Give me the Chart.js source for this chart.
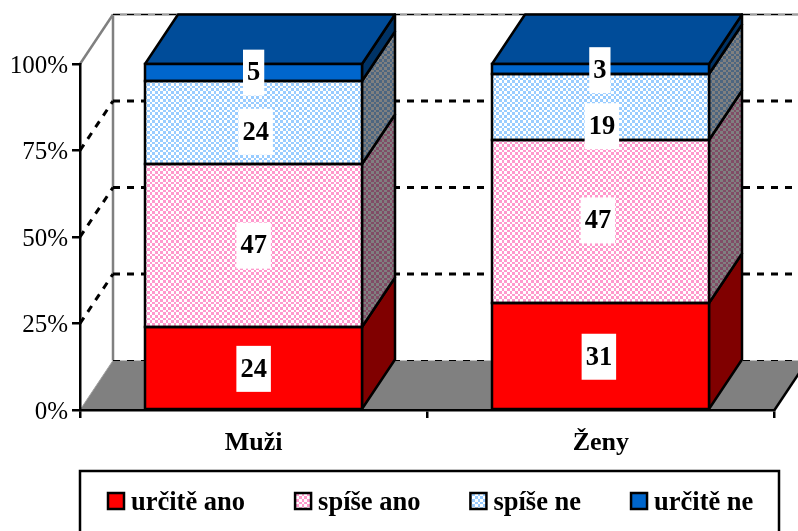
<!DOCTYPE html>
<html>
<head>
<meta charset="utf-8">
<style>
  html, body { margin: 0; padding: 0; background: #fff; overflow: hidden; }
  canvas { display: block; }
</style>
<script src="https://cdn.jsdelivr.net/npm/chart.js@4"></script>
</head>
<body>
<canvas id="graf" width="798" height="531"></canvas>
<script>
const categories = ['Muži', 'Ženy'];
const seriesLabels = ['určitě ano', 'spíše ano', 'spíše ne', 'určitě ne'];
const urciteAno = [24, 31];
const spiseAno = [47, 47];
const spiseNe = [24, 19];
const urciteNe = [5, 3];
const tickValues = [0, 25, 50, 75, 100];

const FONT = '"Liberation Serif", "Times New Roman", serif';
const DEPTH_X = 33;
const DEPTH_Y = 49.5;
const LINE = 2.5;

// The original labels were dragged by hand: [dx, dy] per series, per category
const labelNudge = [
    [[0, 1], [-2, 1]],
    [[0, 0], [-3, -1]],
    [[2, 9], [1, 19]],
    [[0, 0], [-1, 1]]
];

// Dither like the old Excel fills: checks of about 2.67px, so cells of 3, 3, 2
function checker(fg, bg) {
    const cells = [3, 3, 2, 3, 3, 2];
    const c = document.createElement('canvas');
    c.width = 16;
    c.height = 16;
    const g = c.getContext('2d');
    g.fillStyle = bg;
    g.fillRect(0, 0, 16, 16);
    g.fillStyle = fg;
    let py = 0;
    cells.forEach((h, row) => {
        let px = 0;
        cells.forEach((w, col) => {
            if ((row + col) % 2 === 0) g.fillRect(px, py, w, h);
            px += w;
        });
        py += h;
    });
    return g.createPattern(c, 'repeat');
}

const front = [
    '#FF0000',
    checker('#FF99CC', '#FFFFFF'),
    checker('#99CCFF', '#FFFFFF'),
    '#0066CC'
];
const side = [
    '#800000',
    checker('#804D66', '#808080'),
    checker('#4D6680', '#808080'),
    '#003366'
];
const topColor = '#004C99';

function poly(ctx, pts, fill) {
    ctx.beginPath();
    pts.forEach((p, i) => i ? ctx.lineTo(p[0], p[1]) : ctx.moveTo(p[0], p[1]));
    ctx.closePath();
    if (fill) {
        ctx.fillStyle = fill;
        ctx.fill();
    }
}

function line(ctx, x1, y1, x2, y2, color, width, dash) {
    ctx.save();
    ctx.strokeStyle = color;
    ctx.lineWidth = width;
    ctx.setLineDash(dash || []);
    ctx.beginPath();
    ctx.moveTo(x1, y1);
    ctx.lineTo(x2, y2);
    ctx.stroke();
    ctx.restore();
}

// Back wall, side wall and floor
const walls = {
    id: 'walls',
    beforeDraw(chart) {
        const { ctx, chartArea: a, scales: { y } } = chart;
        const bx = a.left + DEPTH_X;
        const fy = a.bottom - DEPTH_Y;
        const ty = a.top - DEPTH_Y;
        ctx.save();
        poly(ctx, [[a.left, a.bottom], [bx, fy], [a.right + DEPTH_X, fy], [a.right, a.bottom]], '#808080');
        line(ctx, a.left, a.top, bx, ty, '#808080', LINE);
        line(ctx, bx, ty, bx, fy, '#808080', LINE);
        line(ctx, bx, ty, chart.width, ty, '#A0A0A0', LINE);
        line(ctx, a.left, a.bottom, bx, fy, '#A0A0A0', 1);
        line(ctx, a.right, a.bottom, a.right + DEPTH_X, fy, '#000', LINE);
        tickValues.forEach(v => {
            const py = y.getPixelForValue(v);
            if (v === 0 || v === 100) {
                line(ctx, bx, py - DEPTH_Y, chart.width, py - DEPTH_Y, '#000', 1, [7, 7]);
                return;
            }
            line(ctx, a.left, py, bx, py - DEPTH_Y, '#000', 3, [7, 7]);
            line(ctx, bx, py - DEPTH_Y, chart.width, py - DEPTH_Y, '#000', 3, [7, 7]);
        });
        ctx.restore();
    }
};

// Right side and top of each column
const faces = {
    id: 'faces',
    beforeDatasetsDraw(chart) {
        const { ctx } = chart;
        ctx.save();
        ctx.strokeStyle = '#000';
        ctx.lineWidth = LINE;
        ctx.lineJoin = 'round';
        chart.data.datasets.forEach((ds, d) => {
            chart.getDatasetMeta(d).data.forEach(el => {
                const r = Math.round(el.x + el.width / 2);
                const l = Math.round(el.x - el.width / 2);
                const t = Math.round(el.y);
                const b = Math.round(el.base);
                poly(ctx, [[r, b], [r + DEPTH_X, b - DEPTH_Y], [r + DEPTH_X, t - DEPTH_Y], [r, t]], side[d]);
                ctx.stroke();
                if (d === chart.data.datasets.length - 1) {
                    poly(ctx, [[l, t], [l + DEPTH_X, t - DEPTH_Y], [r + DEPTH_X, t - DEPTH_Y], [r, t]], topColor);
                    ctx.stroke();
                }
            });
        });
        ctx.restore();
    },
    afterDatasetsDraw(chart) {
        const { ctx } = chart;
        ctx.save();
        ctx.strokeStyle = '#000';
        ctx.lineWidth = LINE;
        chart.data.datasets.forEach((ds, d) => {
            chart.getDatasetMeta(d).data.forEach(el => {
                const l = Math.round(el.x - el.width / 2);
                const t = Math.round(el.y);
                ctx.strokeRect(l, t, Math.round(el.width), Math.round(el.base) - t);
            });
        });
        // Value labels on white boxes
        ctx.font = 'bold 26.5px ' + FONT;
        ctx.textAlign = 'center';
        ctx.textBaseline = 'middle';
        chart.data.datasets.forEach((ds, d) => {
            chart.getDatasetMeta(d).data.forEach((el, i) => {
                const [dx, dy] = labelNudge[d][i];
                const cx = el.x + dx;
                const cy = (el.y + el.base) / 2 + dy;
                const txt = String(ds.data[i]);
                const w = ctx.measureText(txt).width + 8;
                ctx.fillStyle = '#fff';
                ctx.fillRect(cx - w / 2, cy - 23, w, 46);
                ctx.fillStyle = '#000';
                ctx.fillText(txt, cx, cy + 1);
            });
        });
        ctx.restore();
    }
};

// Framed legend, cut off by the bottom of the picture
const legendBox = {
    id: 'legendBox',
    afterDraw(chart) {
        const { ctx, chartArea: a } = chart;
        ctx.save();
        ctx.strokeStyle = '#000';
        ctx.lineWidth = LINE;
        ctx.strokeRect(a.left, 471, 699, 70);
        ctx.font = 'bold 26.5px ' + FONT;
        ctx.textBaseline = 'middle';
        ctx.textAlign = 'left';
        let x = 108;
        chart.data.datasets.forEach((ds, d) => {
            ctx.fillStyle = front[d];
            ctx.fillRect(x, 493, 16, 16);
            ctx.strokeRect(x, 493, 16, 16);
            ctx.fillStyle = '#000';
            ctx.fillText(ds.label, x + 23, 503);
            x += 23 + ctx.measureText(ds.label).width + 50;
        });
        ctx.restore();
    }
};

new Chart(document.getElementById('graf'), {
    type: 'bar',
    data: {
        labels: categories,
        datasets: [urciteAno, spiseAno, spiseNe, urciteNe].map((values, i) => ({
            label: seriesLabels[i],
            data: values,
            backgroundColor: front[i],
            borderWidth: 0,
            barPercentage: 0.625,
            categoryPercentage: 1
        }))
    },
    options: {
        responsive: false,
        animation: false,
        layout: { padding: { top: 64, right: 23.5, left: 0, bottom: 0 } },
        plugins: { legend: { display: false }, tooltip: { enabled: false } },
        scales: {
            x: {
                stacked: true,
                afterFit: (s) => { s.height = 121; },
                border: { display: true, color: '#000', width: LINE },
                grid: { display: true, offset: true, drawOnChartArea: false, color: '#000', lineWidth: LINE, tickLength: 8 },
                ticks: { color: '#000', padding: 10, font: { family: FONT, size: 26, weight: 'bold' }, maxRotation: 0 }
            },
            y: {
                stacked: true,
                min: 0,
                max: 100,
                afterFit: (s) => { s.width = 80; },
                afterBuildTicks: (s) => { s.ticks = tickValues.map(v => ({ value: v })); },
                border: { display: true, color: '#000', width: LINE },
                grid: { display: true, drawOnChartArea: false, color: '#000', lineWidth: LINE, tickLength: 8 },
                ticks: { color: '#000', padding: 4, labelOffset: 2, font: { family: FONT, size: 25 }, callback: (v) => v + '%' }
            }
        }
    },
    plugins: [walls, faces, legendBox]
});
</script>
</body>
</html>
